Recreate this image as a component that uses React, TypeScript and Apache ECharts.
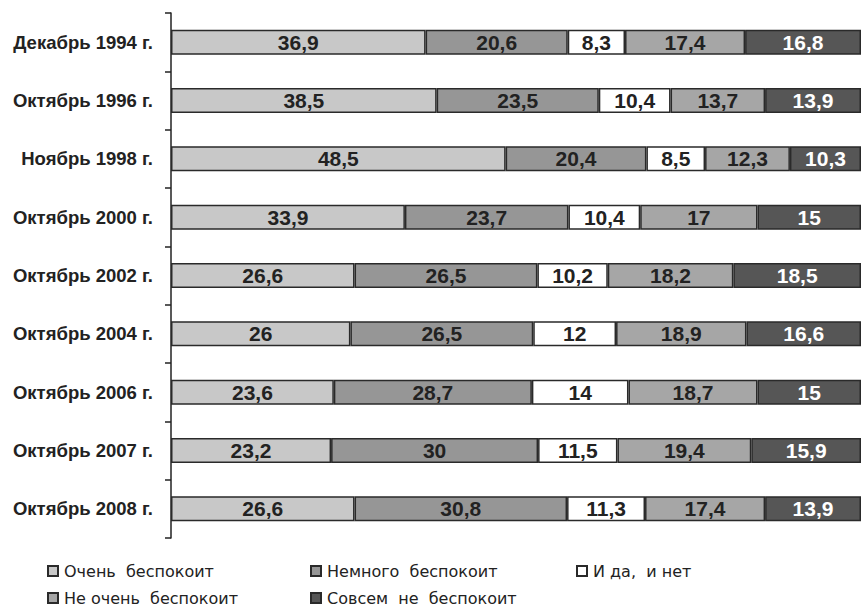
import React, { useEffect, useRef } from "react";
import * as echarts from "echarts";

const categories = [
  "Декабрь 1994 г.",
  "Октябрь 1996 г.",
  "Ноябрь 1998 г.",
  "Октябрь 2000 г.",
  "Октябрь 2002 г.",
  "Октябрь 2004 г.",
  "Октябрь 2006 г.",
  "Октябрь 2007 г.",
  "Октябрь 2008 г.",
];

const seriesNames = [
  "Очень беспокоит",
  "Немного беспокоит",
  "И да, и нет",
  "Не очень беспокоит",
  "Совсем не беспокоит",
];

const veryWorried = [36.9, 38.5, 48.5, 33.9, 26.6, 26, 23.6, 23.2, 26.6];
const somewhatWorried = [20.6, 23.5, 20.4, 23.7, 26.5, 26.5, 28.7, 30, 30.8];
const yesAndNo = [8.3, 10.4, 8.5, 10.4, 10.2, 12, 14, 11.5, 11.3];
const notVeryWorried = [17.4, 13.7, 12.3, 17, 18.2, 18.9, 18.7, 19.4, 17.4];
const notAtAllWorried = [16.8, 13.9, 10.3, 15, 18.5, 16.6, 15, 15.9, 13.9];

const seriesValues = [veryWorried, somewhatWorried, yesAndNo, notVeryWorried, notAtAllWorried];

const fills = ["#c8c8c8", "#969696", "#ffffff", "#a6a6a6", "#565656"];
const labelColors = ["#222222", "#222222", "#222222", "#222222", "#ffffff"];
const legendPos = [
  { left: 47, top: 563 },
  { left: 310, top: 563 },
  { left: 576, top: 563 },
  { left: 47, top: 590 },
  { left: 310, top: 590 },
];
const legendLabels = [
  "Очень  беспокоит",
  "Немного  беспокоит",
  "И да,  и нет",
  "Не очень  беспокоит",
  "Совсем  не  беспокоит",
];

export default function App() {
  const ref = useRef<HTMLDivElement>(null);
  useEffect(() => {
    if (!ref.current) return;
    const chart = echarts.init(ref.current, null, { renderer: "svg" });
    const font = "Arial, 'Liberation Sans', sans-serif";
    chart.setOption({
      animation: false,
      backgroundColor: "#ffffff",
      grid: { left: 171, right: 0, top: 13, bottom: 68 },
      xAxis: { type: "value", min: 0, max: 100, show: false },
      yAxis: {
        type: "category",
        inverse: true,
        data: categories,
        axisLine: { show: true, lineStyle: { color: "#222222", width: 1.5 } },
        axisTick: { show: true, length: 6, lineStyle: { color: "#222222", width: 1.5 } },
        axisLabel: {
          margin: 18,
          color: "#222222",
          fontWeight: "bold",
          fontSize: 18.5,
          fontFamily: font,
        },
        splitLine: { show: false },
      },
      legend: seriesNames.map((name, i) => ({
        data: [name],
        left: legendPos[i].left,
        top: legendPos[i].top,
        padding: 0,
        itemWidth: 10,
        itemHeight: 10,
        itemGap: 0,
        icon: "rect",
        selectedMode: false,
        formatter: () => legendLabels[i],
        textStyle: {
          color: "#222222",
          fontSize: 16,
          lineHeight: 16,
          fontFamily: "'DejaVu Sans', sans-serif",
          padding: [0, 0, 0, 1],
        },
      })),
      series: seriesNames.map((name, i) => ({
        name,
        type: "bar",
        stack: "total",
        barWidth: 25,
        data: seriesValues[i],
        itemStyle: { color: fills[i], borderColor: "#2a2a2a", borderWidth: 1.5 },
        label: {
          show: true,
          position: "inside",
          formatter: (p: any) => String(p.value).replace(".", ","),
          color: labelColors[i],
          fontWeight: "bold",
          fontSize: 21,
          fontFamily: font,
        },
      })),
    });
    return () => chart.dispose();
  }, []);
  return (
    <div
      ref={ref}
      style={{ position: "fixed", left: 0, top: 0, width: 861, height: 606 }}
    />
  );
}
